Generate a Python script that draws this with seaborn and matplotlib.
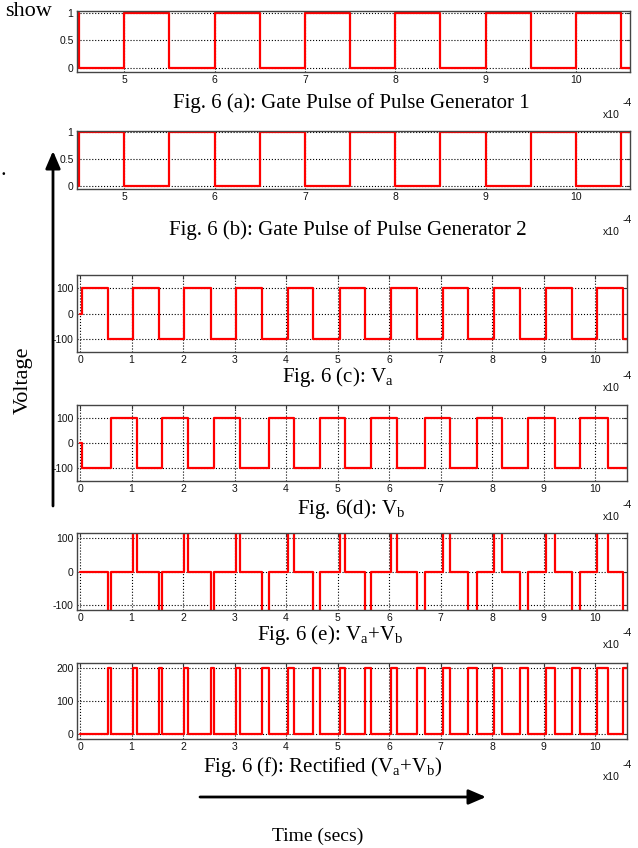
import numpy as np
import pandas as pd
import matplotlib
matplotlib.use("Agg")
import matplotlib.pyplot as plt
from matplotlib.patches import FancyArrowPatch
import seaborn as sns

# ---------------- data (time in units of 1e-4 s) ----------------
pulse_times = [4.0, 4.5, 5.0, 5.5, 6.0, 6.5, 7.0, 7.5, 8.0, 8.5, 9.0, 9.5, 10.0, 10.5, 10.7]
gate1_levels = [1, 0, 1, 0, 1, 0, 1, 0, 1, 0, 1, 0, 1, 0, 0]
gate2_levels = [0, 1, 0, 1, 0, 1, 0, 1, 0, 1, 0, 1, 0, 1, 1]

va_times = [0.0, 0.03, 0.54, 1.03, 1.53, 2.02, 2.54, 3.02, 3.54, 4.04, 4.53, 5.04,
            5.54, 6.04, 6.54, 7.04, 7.54, 8.04, 8.54, 9.04, 9.55, 10.04, 10.54, 10.7]
va_levels = [0, 100, -100, 100, -100, 100, -100, 100, -100, 100, -100, 100,
             -100, 100, -100, 100, -100, 100, -100, 100, -100, 100, -100, -100]

vb_times = [0.0, 0.03, 0.60, 1.10, 1.60, 2.10, 2.60, 3.10, 3.66, 4.15, 4.65, 5.15,
            5.65, 6.15, 6.70, 7.18, 7.70, 8.20, 8.70, 9.22, 9.71, 10.25, 10.7]
vb_levels = [0, -100, 100, -100, 100, -100, 100, -100, 100, -100, 100, -100,
             100, -100, 100, -100, 100, -100, 100, -100, 100, -100, -100]

gate_xticks = [5, 6, 7, 8, 9, 10]
volt_xticks = [0, 1, 2, 3, 4, 5, 6, 7, 8, 9, 10]
gate_yticks = [0, 0.5, 1]
gate_yticklabels = ["0", "0.5", "1"]
volt_yticks = [-100, 0, 100]
rect_yticks = [0, 100, 200]

captions = [
    "Fig. 6 (a): Gate Pulse of Pulse Generator 1",
    "Fig. 6 (b): Gate Pulse of Pulse Generator 2",
    "Fig. 6 (c): $V_a$",
    "Fig. 6(d): $V_b$",
    "Fig. 6 (e): $V_a$+$V_b$",
    "Fig. 6 (f): Rectified ($V_a$+$V_b$)",
]


def step_eval(times, levels, t):
    idx = np.searchsorted(np.asarray(times), t, side="right") - 1
    return np.asarray(levels)[idx]


sum_times = np.union1d(va_times, vb_times)
sum_levels = step_eval(va_times, va_levels, sum_times) + step_eval(vb_times, vb_levels, sum_times)
rect_levels = np.abs(sum_levels)

# ---------------- style ----------------
sns.set_theme(style="white")
plt.rcParams["font.family"] = ["Liberation Serif", "DejaVu Serif"]
plt.rcParams["mathtext.default"] = "regular"
plt.rcParams["axes.unicode_minus"] = False

W, H = 638, 848
fig = plt.figure(figsize=(W / 100, H / 100), dpi=100)
fig.patch.set_facecolor("white")

TICKFONT = ["Liberation Sans Narrow", "Liberation Sans", "DejaVu Sans"]


def add_ax(l, r, t, b):
    return fig.add_axes([l / W, 1 - b / H, (r - l) / W, (b - t) / H])


def style_ax(ax, xlim, ylim, xticks, yticks, yticklabels=None):
    ax.set_xlim(*xlim)
    ax.set_ylim(*ylim)
    ax.set_xticks(xticks)
    ax.set_xticklabels([str(v) for v in xticks])
    ax.set_yticks(yticks)
    ax.set_yticklabels(yticklabels if yticklabels else [str(v) for v in yticks])
    for lab in ax.get_xticklabels() + ax.get_yticklabels():
        lab.set_family(TICKFONT)
        lab.set_fontsize(7.5)
        lab.set_color("#111111")
    ax.tick_params(direction="in", top=True, right=True, length=3, width=0.8,
                   color="#333333", pad=2.5)
    ax.grid(True, linestyle=":", color="black", linewidth=0.8)
    for s in ax.spines.values():
        s.set_color("#444444")
        s.set_linewidth(1.0)
    ax.set_xlabel("")
    ax.set_ylabel("")
    ax.set_facecolor("white")


def draw(ax, x, y):
    df = pd.DataFrame({"t": x, "v": y})
    sns.lineplot(data=df, x="t", y="v", ax=ax, color="#ff0000", linewidth=1.6,
                 drawstyle="steps-post", estimator=None, sort=False)


# panel boxes: left, right, top, bottom (pixels)
boxes = [
    (77, 630, 11, 72),
    (77, 630, 131, 189),
    (77, 627, 275, 352),
    (77, 627, 405, 481),
    (77, 627, 533, 610),
    (77, 627, 663, 739),
]

ax_a = add_ax(*boxes[0])
draw(ax_a, pulse_times, gate1_levels)
style_ax(ax_a, (4.476, 10.6), (-0.067, 1.03), gate_xticks, gate_yticks, gate_yticklabels)

ax_b = add_ax(*boxes[1])
draw(ax_b, pulse_times, gate2_levels)
style_ax(ax_b, (4.476, 10.6), (-0.06, 1.025), gate_xticks, gate_yticks, gate_yticklabels)

ax_c = add_ax(*boxes[2])
draw(ax_c, va_times, va_levels)
style_ax(ax_c, (-0.06, 10.62), (-150, 150), volt_xticks, volt_yticks)

ax_d = add_ax(*boxes[3])
draw(ax_d, vb_times, vb_levels)
style_ax(ax_d, (-0.06, 10.62), (-150, 150), volt_xticks, volt_yticks)

ax_e = add_ax(*boxes[4])
draw(ax_e, sum_times, sum_levels)
style_ax(ax_e, (-0.06, 10.62), (-115, 115), volt_xticks, volt_yticks)

ax_f = add_ax(*boxes[5])
draw(ax_f, sum_times, rect_levels)
style_ax(ax_f, (-0.06, 10.62), (-14, 214), volt_xticks, rect_yticks)


def ftext(x, y, s, **kw):
    fig.text(x / W, 1 - y / H, s, **kw)


# captions
cap_pos = [(351, 103), (348, 230), (338, 377), (351, 509), (330, 635), (323, 767)]
for (cx, cy), cap in zip(cap_pos, captions):
    ftext(cx, cy, cap, ha="center", va="center", fontsize=15, color="black")

# x10^-4 multipliers
mult_pos = [(611, 115), (611, 232), (611, 388), (611, 517), (611, 645), (611, 777)]
for mx, my in mult_pos:
    ftext(mx, my, "x10", ha="center", va="center", fontsize=7.5, family=TICKFONT, color="#111111")
    ftext(mx + 16, my - 12, "-4", ha="center", va="center", fontsize=7.5, family=TICKFONT, color="#111111")

# surrounding text fragments
ftext(52, 16, "show", ha="right", va="baseline", fontsize=16, color="black")
ftext(0, 175, ".", ha="left", va="baseline", fontsize=16, color="black")
ftext(23, 380, "Voltage", ha="center", va="center", rotation=90, fontsize=16, color="black")
ftext(318, 836, "Time (secs)", ha="center", va="center", fontsize=14, color="black")

# arrows
arr_v = FancyArrowPatch((53 / W, 1 - 506 / H), (53 / W, 1 - 151 / H), transform=fig.transFigure,
                        arrowstyle="-|>,head_length=0.7,head_width=0.3", mutation_scale=15,
                        linewidth=2, color="black", shrinkA=0, shrinkB=0)
fig.add_artist(arr_v)
arr_h = FancyArrowPatch((200 / W, 1 - 797 / H), (486 / W, 1 - 797 / H), transform=fig.transFigure,
                        arrowstyle="-|>,head_length=0.7,head_width=0.3", mutation_scale=15,
                        linewidth=2, color="black", shrinkA=0, shrinkB=0)
fig.add_artist(arr_h)

fig.savefig("out.png", dpi=100, facecolor="white")
